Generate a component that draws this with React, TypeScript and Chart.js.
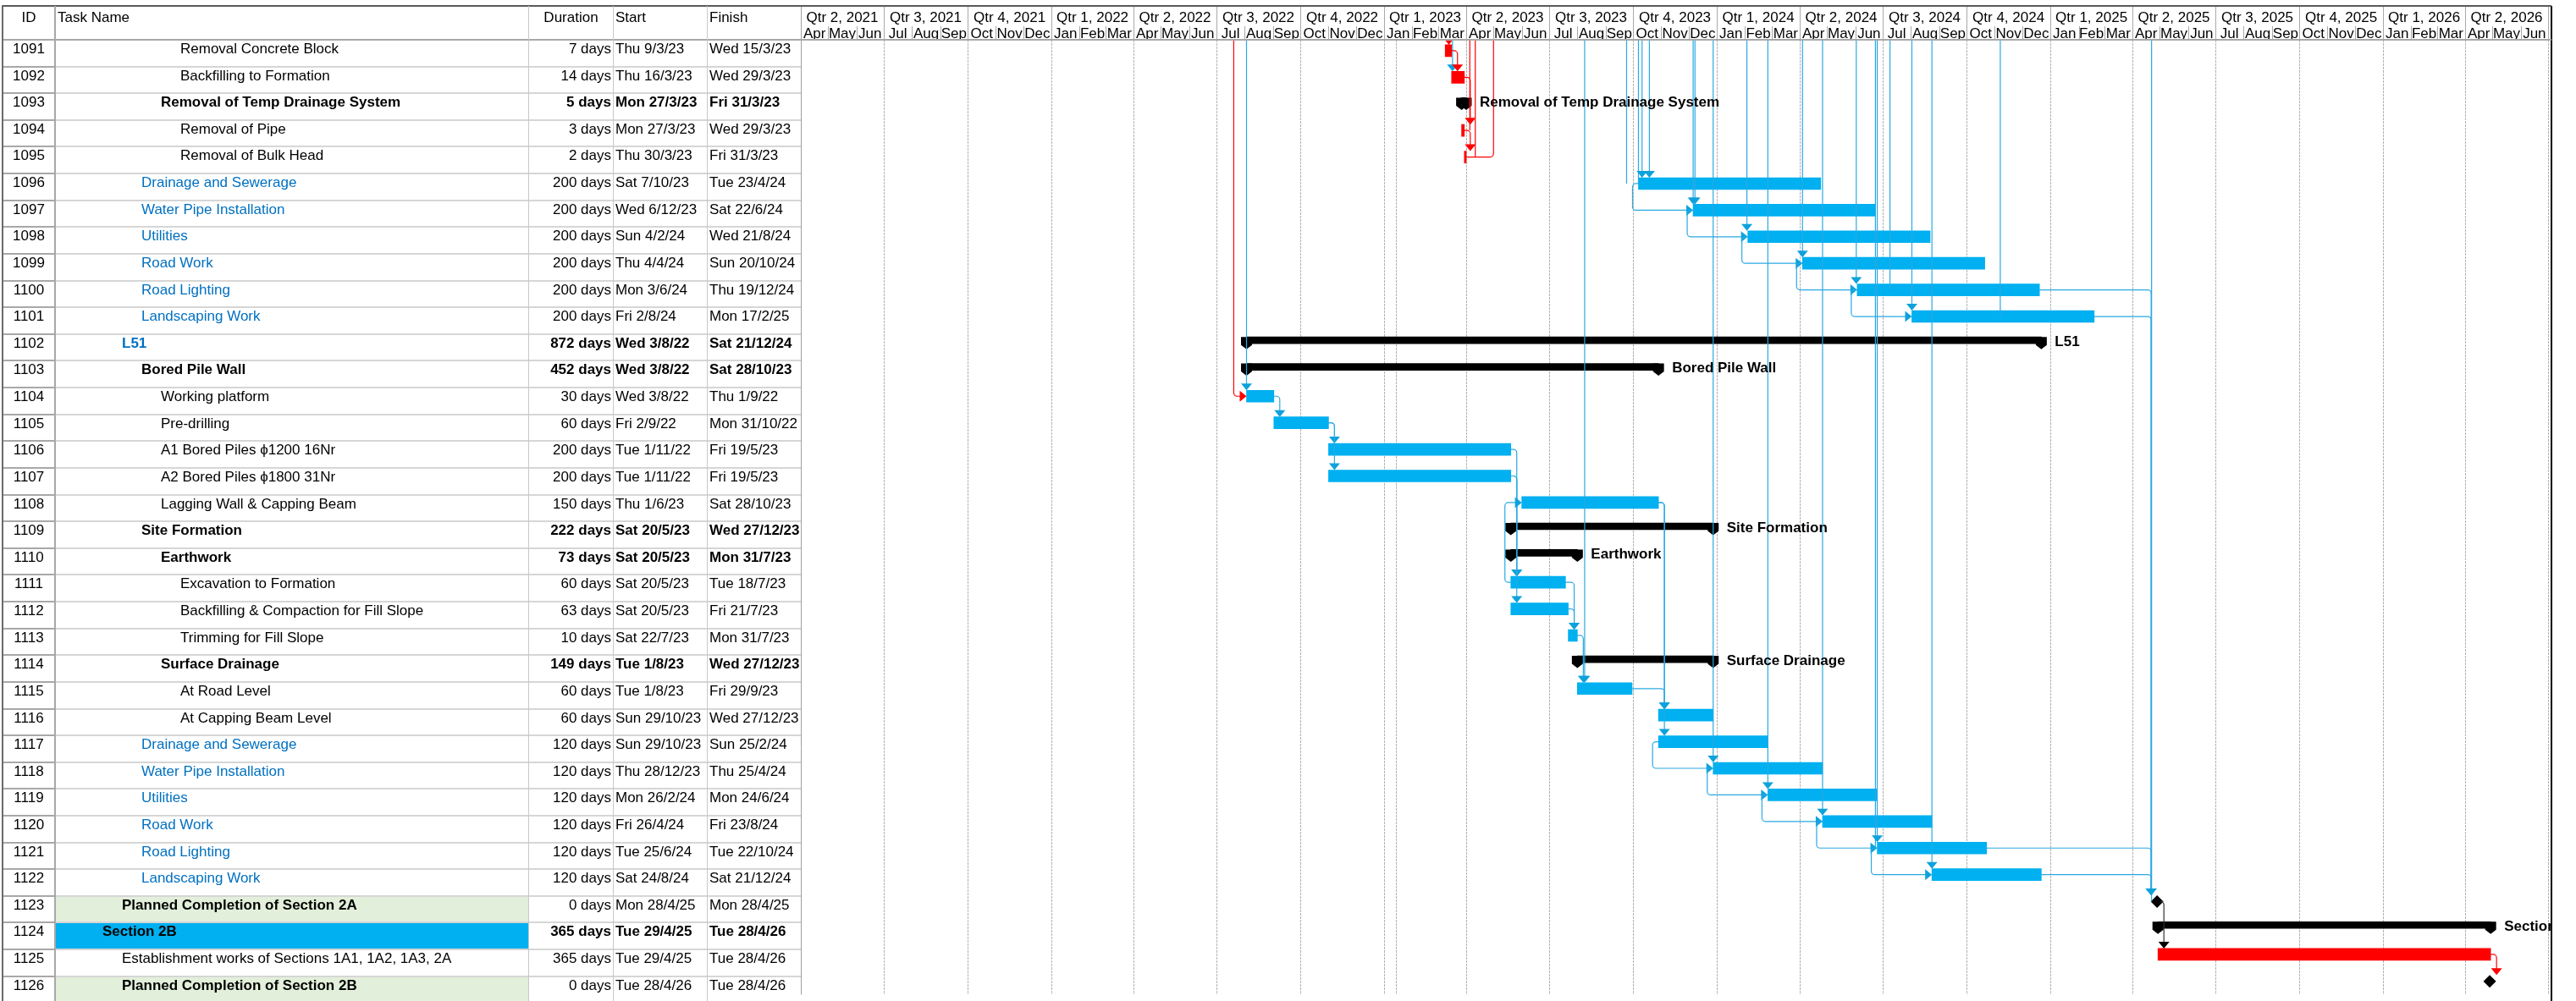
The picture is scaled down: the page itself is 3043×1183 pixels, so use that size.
import React, { useEffect, useRef } from "react";
import { Chart, registerables } from "chart.js";

Chart.register(...registerables);

// ---------------- data ----------------
const TASK_IDS = [1091, 1092, 1093, 1094, 1095, 1096, 1097, 1098, 1099, 1100, 1101, 1102, 1103, 1104, 1105, 1106, 1107, 1108, 1109, 1110, 1111, 1112, 1113, 1114, 1115, 1116, 1117, 1118, 1119, 1120, 1121, 1122, 1123, 1124, 1125, 1126];

const TASK_NAMES = [
  "Removal Concrete Block", "Backfilling to Formation", "Removal of Temp Drainage System", "Removal of Pipe", "Removal of Bulk Head",
  "Drainage and Sewerage", "Water Pipe Installation", "Utilities", "Road Work", "Road Lighting", "Landscaping Work",
  "L51", "Bored Pile Wall", "Working platform", "Pre-drilling", "A1 Bored Piles \u03d51200 16Nr", "A2 Bored Piles \u03d51800 31Nr", "Lagging Wall & Capping Beam",
  "Site Formation", "Earthwork", "Excavation to Formation", "Backfilling & Compaction for Fill Slope", "Trimming for Fill Slope",
  "Surface Drainage", "At Road Level", "At Capping Beam Level",
  "Drainage and Sewerage", "Water Pipe Installation", "Utilities", "Road Work", "Road Lighting", "Landscaping Work",
  "Planned Completion of Section 2A", "Section 2B", "Establishment works of Sections 1A1, 1A2, 1A3, 2A", "Planned Completion of Section 2B",
];

const DURATIONS = ["7 days", "14 days", "5 days", "3 days", "2 days", "200 days", "200 days", "200 days", "200 days", "200 days", "200 days", "872 days", "452 days", "30 days", "60 days", "200 days", "200 days", "150 days", "222 days", "73 days", "60 days", "63 days", "10 days", "149 days", "60 days", "60 days", "120 days", "120 days", "120 days", "120 days", "120 days", "120 days", "0 days", "365 days", "365 days", "0 days"];

const STARTS = ["Thu 9/3/23", "Thu 16/3/23", "Mon 27/3/23", "Mon 27/3/23", "Thu 30/3/23", "Sat 7/10/23", "Wed 6/12/23", "Sun 4/2/24", "Thu 4/4/24", "Mon 3/6/24", "Fri 2/8/24", "Wed 3/8/22", "Wed 3/8/22", "Wed 3/8/22", "Fri 2/9/22", "Tue 1/11/22", "Tue 1/11/22", "Thu 1/6/23", "Sat 20/5/23", "Sat 20/5/23", "Sat 20/5/23", "Sat 20/5/23", "Sat 22/7/23", "Tue 1/8/23", "Tue 1/8/23", "Sun 29/10/23", "Sun 29/10/23", "Thu 28/12/23", "Mon 26/2/24", "Fri 26/4/24", "Tue 25/6/24", "Sat 24/8/24", "Mon 28/4/25", "Tue 29/4/25", "Tue 29/4/25", "Tue 28/4/26"];

const FINISHES = ["Wed 15/3/23", "Wed 29/3/23", "Fri 31/3/23", "Wed 29/3/23", "Fri 31/3/23", "Tue 23/4/24", "Sat 22/6/24", "Wed 21/8/24", "Sun 20/10/24", "Thu 19/12/24", "Mon 17/2/25", "Sat 21/12/24", "Sat 28/10/23", "Thu 1/9/22", "Mon 31/10/22", "Fri 19/5/23", "Fri 19/5/23", "Sat 28/10/23", "Wed 27/12/23", "Mon 31/7/23", "Tue 18/7/23", "Fri 21/7/23", "Mon 31/7/23", "Wed 27/12/23", "Fri 29/9/23", "Wed 27/12/23", "Sun 25/2/24", "Thu 25/4/24", "Mon 24/6/24", "Fri 23/8/24", "Tue 22/10/24", "Sat 21/12/24", "Mon 28/4/25", "Tue 28/4/26", "Tue 28/4/26", "Tue 28/4/26"];

const OUTLINE_LEVELS = [5, 5, 4, 5, 5, 3, 3, 3, 3, 3, 3, 2, 3, 4, 4, 4, 4, 4, 3, 4, 5, 5, 5, 4, 5, 5, 3, 3, 3, 3, 3, 3, 2, 1, 2, 2];

const SUMMARY_IDS = [1093, 1102, 1103, 1109, 1110, 1114, 1124];
const MILESTONE_IDS = [1123, 1126];
const CRITICAL_IDS = [1091, 1092, 1094, 1095, 1125];
const BLUE_NAME_IDS = [1096, 1097, 1098, 1099, 1100, 1101, 1102, 1117, 1118, 1119, 1120, 1121, 1122];
const GREEN_NAME_IDS = [1123, 1126];
const CYAN_NAME_IDS = [1124];
const BOLD_NAME_IDS = [1093, 1102, 1103, 1109, 1110, 1114, 1124, 1123, 1126];

// links inside the view: [predecessor, successor]
const FS_LINKS = [
  [1091, 1092], [1092, 1094], [1094, 1095],
  [1104, 1105], [1105, 1106], [1105, 1107], [1106, 1111], [1107, 1111], [1107, 1112],
  [1111, 1113], [1112, 1113], [1113, 1115], [1108, 1116], [1108, 1117], [1115, 1116],
  [1100, 1123], [1101, 1123], [1121, 1123], [1122, 1123], [1123, 1125], [1125, 1126],
];
const SS_LINKS = [
  [1096, 1097], [1097, 1098], [1098, 1099], [1099, 1100], [1100, 1101],
  [1117, 1118], [1118, 1119], [1119, 1120], [1120, 1121], [1121, 1122], [1111, 1108],
];
// links coming from tasks above the view: [date of vertical line, target task, ending, critical]
const OFFVIEW_LINKS: [string, number, string, boolean][] = [
  ["20/7/22", 1104, "right", true],
  ["3/8/22", 1104, "down", false],
  ["13/3/23", 1091, "down", true],
  ["17/3/23", 1092, "down", false],
  ["5/4/23", 1094, "none", true],
  ["11/4/23", 1095, "none", true],
  ["1/5/23", 1095, "hook", true],
  ["9/8/23", 1115, "down", false],
  ["24/9/23", 1096, "none", false],
  ["7/10/23", 1096, "none", false],
  ["11/10/23", 1096, "down", false],
  ["19/10/23", 1096, "down", false],
  ["6/12/23", 1097, "down", false],
  ["8/12/23", 1097, "down", false],
  ["28/12/23", 1118, "down", false],
  ["3/2/24", 1098, "down", false],
  ["26/2/24", 1119, "down", false],
  ["4/4/24", 1099, "down", false],
  ["26/4/24", 1120, "down", false],
  ["2/6/24", 1100, "down", false],
  ["23/6/24", 1121, "none", false],
  ["25/6/24", 1121, "down", false],
  ["9/7/24", 1100, "none", false],
  ["2/8/24", 1101, "down", false],
  ["24/8/24", 1122, "down", false],
  ["7/11/24", 1101, "none", false],
  ["22/4/25", 1123, "none", false],
];

const QUARTER_LABELS = ["Qtr 2, 2021", "Qtr 3, 2021", "Qtr 4, 2021", "Qtr 1, 2022", "Qtr 2, 2022", "Qtr 3, 2022", "Qtr 4, 2022", "Qtr 1, 2023", "Qtr 2, 2023", "Qtr 3, 2023", "Qtr 4, 2023", "Qtr 1, 2024", "Qtr 2, 2024", "Qtr 3, 2024", "Qtr 4, 2024", "Qtr 1, 2025", "Qtr 2, 2025", "Qtr 3, 2025", "Qtr 4, 2025", "Qtr 1, 2026", "Qtr 2, 2026"];
const QUARTER_STARTS = ["1/4/21", "1/7/21", "1/10/21", "1/1/22", "1/4/22", "1/7/22", "1/10/22", "1/1/23", "1/4/23", "1/7/23", "1/10/23", "1/1/24", "1/4/24", "1/7/24", "1/10/24", "1/1/25", "1/4/25", "1/7/25", "1/10/25", "1/1/26", "1/4/26", "1/7/26"];
const MONTH_LABELS = ["Jan", "Feb", "Mar", "Apr", "May", "Jun", "Jul", "Aug", "Sep", "Oct", "Nov", "Dec"];
const STATUS_DATE = "14/1/23";

// ---------------- layout / style ----------------
const W = 3043;
const H = 1183;
const TOP = 47;
const ROW_H = 31.62;
const GANTT_LEFT = 946;
const GANTT_RIGHT = 3010;
const Y_MAX = (H - TOP) / ROW_H;
const FONT = "'Liberation Sans', Arial, Helvetica, sans-serif";
const TASK_Y = 13 / ROW_H;
const SUMMARY_Y = 9.7 / ROW_H;
const MS_Y = 13.5 / ROW_H;
const BLUE = "#00B0F0";
const RED = "#FF0000";
const LINK_BLUE = "#2AA9E3";
const ARROW_BLUE = "#0EA2DC";

function parseDay(s: string): number {
  const parts = s.trim().split(" ");
  const dmy = parts[parts.length - 1].split("/");
  return Date.UTC(2000 + Number(dmy[2]), Number(dmy[1]) - 1, Number(dmy[0])) / 86400000;
}

const START_DAYS = STARTS.map(parseDay);
const END_DAYS = FINISHES.map((f, i) => (MILESTONE_IDS.includes(TASK_IDS[i]) ? START_DAYS[i] : parseDay(f) + 1));
const TL_START = parseDay(QUARTER_STARTS[0]);
const TL_END = parseDay(QUARTER_STARTS[QUARTER_STARTS.length - 1]);

function kindOf(id: number) {
  if (SUMMARY_IDS.includes(id)) return "summary";
  if (MILESTONE_IDS.includes(id)) return "milestone";
  return "task";
}

function rounded(ctx: CanvasRenderingContext2D, pts: number[][], r: number) {
  ctx.beginPath();
  ctx.moveTo(pts[0][0], pts[0][1]);
  for (let k = 1; k < pts.length - 1; k++) {
    ctx.arcTo(pts[k][0], pts[k][1], pts[k + 1][0], pts[k + 1][1], r);
  }
  ctx.lineTo(pts[pts.length - 1][0], pts[pts.length - 1][1]);
  ctx.stroke();
}
function arrowDown(ctx: CanvasRenderingContext2D, x: number, tipY: number, color: string) {
  ctx.fillStyle = color;
  ctx.beginPath();
  ctx.moveTo(x - 6.5, tipY - 8);
  ctx.lineTo(x + 6.5, tipY - 8);
  ctx.lineTo(x, tipY);
  ctx.closePath();
  ctx.fill();
}
function arrowRight(ctx: CanvasRenderingContext2D, tipX: number, y: number, color: string) {
  ctx.fillStyle = color;
  ctx.beginPath();
  ctx.moveTo(tipX - 8, y - 6.5);
  ctx.lineTo(tipX - 8, y + 6.5);
  ctx.lineTo(tipX, y);
  ctx.closePath();
  ctx.fill();
}

const ganttPlugin = {
  id: "ganttDecor",
  beforeDatasetsDraw(chart: any) {
    const { ctx, chartArea: ca } = chart;
    const xs = chart.scales.x;
    ctx.save();
    // header: quarters
    ctx.fillStyle = "#000";
    ctx.font = `17px ${FONT}`;
    ctx.textAlign = "center";
    ctx.textBaseline = "middle";
    ctx.strokeStyle = "#A9A9A9";
    ctx.lineWidth = 1;
    for (let q = 0; q < QUARTER_LABELS.length; q++) {
      const x0 = xs.getPixelForValue(parseDay(QUARTER_STARTS[q]));
      const x1 = xs.getPixelForValue(parseDay(QUARTER_STARTS[q + 1]));
      ctx.fillText(QUARTER_LABELS[q], (x0 + x1) / 2, 21);
      const px = Math.round(x1) + 0.5;
      ctx.beginPath();
      ctx.moveTo(px, 8);
      ctx.lineTo(px, TOP);
      ctx.stroke();
    }
    // header: months
    const d0 = new Date(TL_START * 86400000);
    let y = d0.getUTCFullYear();
    let m = d0.getUTCMonth();
    while (Date.UTC(y, m, 1) / 86400000 < TL_END) {
      const a = Date.UTC(y, m, 1) / 86400000;
      const b = Date.UTC(y, m + 1, 1) / 86400000;
      const x0 = xs.getPixelForValue(a);
      const x1 = xs.getPixelForValue(b);
      ctx.fillText(MONTH_LABELS[m], (x0 + x1) / 2, 40);
      const px = Math.round(x1) + 0.5;
      ctx.beginPath();
      ctx.moveTo(px, 31);
      ctx.lineTo(px, TOP);
      ctx.stroke();
      m++;
      if (m > 11) {
        m = 0;
        y++;
      }
    }
    // body grid: quarter boundaries
    ctx.strokeStyle = "#B2B2B2";
    ctx.setLineDash([3, 1]);
    for (let q = 1; q < QUARTER_STARTS.length; q++) {
      const px = Math.round(xs.getPixelForValue(parseDay(QUARTER_STARTS[q]))) + 0.5;
      ctx.beginPath();
      ctx.moveTo(px, ca.top);
      ctx.lineTo(px, ca.bottom);
      ctx.stroke();
    }
    const sx = Math.round(xs.getPixelForValue(parseDay(STATUS_DATE))) + 0.5;
    ctx.beginPath();
    ctx.moveTo(sx, ca.top);
    ctx.lineTo(sx, ca.bottom);
    ctx.stroke();
    ctx.setLineDash([]);
    // gantt left edge
    ctx.strokeStyle = "#A0A0A0";
    ctx.beginPath();
    ctx.moveTo(ca.left + 0.5, 7);
    ctx.lineTo(ca.left + 0.5, ca.bottom);
    ctx.stroke();
    ctx.restore();
  },
  afterDatasetsDraw(chart: any) {
    const { ctx, chartArea: ca } = chart;
    const xs = chart.scales.x;
    const ys = chart.scales.y;
    const geo = (id: number) => {
      const i = TASK_IDS.indexOf(id);
      const kind = kindOf(id);
      const off = kind === "summary" ? SUMMARY_Y : kind === "milestone" ? MS_Y : TASK_Y;
      const cy = ys.getPixelForValue(i + off);
      const half = kind === "summary" ? 4 : kind === "milestone" ? 7.5 : 7;
      return {
        i,
        kind,
        s: xs.getPixelForValue(START_DAYS[i]),
        e: xs.getPixelForValue(END_DAYS[i]),
        cy,
        top: cy - half,
        rowTop: ys.getPixelForValue(i),
        critical: CRITICAL_IDS.includes(id),
      };
    };
    ctx.save();
    ctx.beginPath();
    ctx.rect(ca.left, ca.top, 3013 - ca.left, ca.bottom - ca.top);
    ctx.clip();

    // summary end caps
    ctx.fillStyle = "#000";
    for (const id of SUMMARY_IDS) {
      const g = geo(id);
      for (const x of [g.s, g.e]) {
        ctx.beginPath();
        ctx.moveTo(x - 6.5, g.top);
        ctx.lineTo(x + 6.5, g.top);
        ctx.lineTo(x + 6.5, g.top + 9.5);
        ctx.lineTo(x, g.top + 14.5);
        ctx.lineTo(x - 6.5, g.top + 9.5);
        ctx.closePath();
        ctx.fill();
      }
    }

    ctx.lineWidth = 1.2;
    // links from tasks outside the view
    for (const [date, target, ending, crit] of OFFVIEW_LINKS) {
      const g = geo(target);
      const x = xs.getPixelForValue(parseDay(date));
      const col = crit ? RED : LINK_BLUE;
      ctx.strokeStyle = col;
      if (ending === "down") {
        rounded(ctx, [[x, ca.top], [x, g.top - 7]], 3);
        arrowDown(ctx, x, g.top, crit ? RED : ARROW_BLUE);
      } else if (ending === "right") {
        rounded(ctx, [[x, ca.top], [x, g.cy], [g.s - 7, g.cy]], 4);
        arrowRight(ctx, g.s, g.cy, crit ? RED : ARROW_BLUE);
      } else if (ending === "hook") {
        rounded(ctx, [[x, ca.top], [x, g.cy], [g.e, g.cy]], 4);
      } else {
        rounded(ctx, [[x, ca.top], [x, g.cy]], 3);
      }
    }

    // finish-to-start links
    for (const [p, s] of FS_LINKS) {
      const a = geo(p);
      const b = geo(s);
      const col = a.critical ? RED : a.kind === "milestone" ? "#303030" : LINK_BLUE;
      const acol = a.critical ? RED : a.kind === "milestone" ? "#000" : ARROW_BLUE;
      const x0 = a.kind === "milestone" ? a.e + 7 : a.e;
      const xv = b.kind === "milestone" ? Math.max(a.e + 7, b.s - 7) : Math.max(a.e, b.s) + 7;
      ctx.strokeStyle = col;
      rounded(ctx, [[x0, a.cy], [xv, a.cy], [xv, b.top - 7]], 4);
      arrowDown(ctx, xv, b.top, acol);
    }
    // start-to-start links
    for (const [p, s] of SS_LINKS) {
      const a = geo(p);
      const b = geo(s);
      const xa = Math.min(a.s, b.s) - 7;
      ctx.strokeStyle = LINK_BLUE;
      rounded(ctx, [[a.s, a.cy], [xa, a.cy], [xa, b.cy], [b.s - 7, b.cy]], 4);
      arrowRight(ctx, b.s, b.cy, ARROW_BLUE);
    }

    // summary labels
    ctx.fillStyle = "#000";
    ctx.font = `bold 17px ${FONT}`;
    ctx.textAlign = "left";
    ctx.textBaseline = "middle";
    for (let k = 0; k < SUMMARY_IDS.length; k++) {
      const id = SUMMARY_IDS[k];
      const g = geo(id);
      ctx.fillText(TASK_NAMES[g.i], g.e + 16, g.rowTop + 11.5);
    }
    ctx.restore();

    // right border
    ctx.save();
    ctx.fillStyle = "#000";
    ctx.fillRect(3013, 7, 2, H - 7);
    ctx.restore();
  },
};

export default function App() {
  const canvasRef = useRef<HTMLCanvasElement | null>(null);

  useEffect(() => {
    const idx = TASK_IDS.map((_, i) => i);
    const barPoint = (i: number) => ({ x: [START_DAYS[i], END_DAYS[i]], y: i + TASK_Y });
    const normalTasks = idx.filter((i) => kindOf(TASK_IDS[i]) === "task" && !CRITICAL_IDS.includes(TASK_IDS[i]));
    const criticalTasks = idx.filter((i) => kindOf(TASK_IDS[i]) === "task" && CRITICAL_IDS.includes(TASK_IDS[i]));
    const summaries = idx.filter((i) => kindOf(TASK_IDS[i]) === "summary");
    const milestones = idx.filter((i) => kindOf(TASK_IDS[i]) === "milestone");

    const chart = new Chart(canvasRef.current as HTMLCanvasElement, {
      type: "bar",
      data: {
        datasets: [
          {
            type: "bar",
            label: "Task",
            indexAxis: "y",
            data: normalTasks.map(barPoint),
            backgroundColor: BLUE,
            borderWidth: 0,
            barThickness: 14,
            grouped: false,
          } as any,
          {
            type: "bar",
            label: "Critical task",
            indexAxis: "y",
            data: criticalTasks.map(barPoint),
            backgroundColor: RED,
            borderWidth: 0,
            barThickness: 14,
            grouped: false,
          } as any,
          {
            type: "bar",
            label: "Summary",
            indexAxis: "y",
            data: summaries.map((i) => ({ x: [START_DAYS[i], END_DAYS[i]], y: i + SUMMARY_Y })),
            backgroundColor: "#000",
            borderWidth: 0,
            barThickness: 8,
            grouped: false,
          } as any,
          {
            type: "scatter",
            label: "Milestone",
            data: milestones.map((i) => ({ x: START_DAYS[i], y: i + MS_Y })),
            pointStyle: "rectRot",
            pointRadius: 7.5,
            backgroundColor: "#000",
            borderWidth: 0,
          } as any,
        ],
      },
      options: {
        animation: false,
        responsive: false,
        maintainAspectRatio: false,
        devicePixelRatio: 1,
        events: [],
        layout: { padding: { left: GANTT_LEFT, right: W - GANTT_RIGHT, top: TOP, bottom: 0 } },
        plugins: { legend: { display: false }, tooltip: { enabled: false } },
        scales: {
          x: { type: "linear", min: TL_START, max: TL_END, display: false, offset: false, grid: { offset: false } },
          y: { type: "linear", min: 0, max: Y_MAX, reverse: true, display: false, offset: false, grid: { offset: false } },
        },
      } as any,
      plugins: [ganttPlugin as any],
    });
    return () => chart.destroy();
  }, []);

  const textBase: React.CSSProperties = {
    position: "absolute",
    height: 22,
    lineHeight: "22px",
    whiteSpace: "nowrap",
  };

  return (
    <div
      style={{
        position: "absolute",
        left: 0,
        top: 0,
        width: W,
        height: H,
        overflow: "hidden",
        background: "#fff",
        fontFamily: FONT,
        fontSize: 17,
        color: "#000",
      }}
    >
      <canvas ref={canvasRef} width={W} height={H} style={{ position: "absolute", left: 0, top: 0, width: W, height: H }} />
      {/* name-cell highlights */}
      {TASK_IDS.map((id, i) => {
        const bg = GREEN_NAME_IDS.includes(id) ? "#E2EFDA" : CYAN_NAME_IDS.includes(id) ? "#00B0F0" : null;
        if (!bg) return null;
        return <div key={"bg" + id} style={{ position: "absolute", left: 66, top: TOP + i * ROW_H + 1, width: 558, height: ROW_H - 1, background: bg }} />;
      })}
      {/* row lines */}
      {TASK_IDS.map((id, i) => (
        <React.Fragment key={"ln" + id}>
          <div style={{ position: "absolute", left: 2, top: TOP + (i + 1) * ROW_H - 1, width: 64, height: 2, background: "#A8A8A8" }} />
          <div style={{ position: "absolute", left: 66, top: TOP + (i + 1) * ROW_H - 1, width: 880, height: 2, background: "#D6D6D6" }} />
        </React.Fragment>
      ))}
      {/* frame lines */}
      <div style={{ position: "absolute", left: 2, top: 6, width: 3012, height: 2, background: "#5A5A5A" }} />
      <div style={{ position: "absolute", left: 2, top: TOP - 1, width: 3012, height: 2, background: "#A8A8A8" }} />
      <div style={{ position: "absolute", left: 2, top: 6, width: 2, height: H - 6, background: "#6A6A6A" }} />
      <div style={{ position: "absolute", left: 64, top: 7, width: 2, height: H - 7, background: "#A8A8A8" }} />
      <div style={{ position: "absolute", left: 624, top: 7, width: 1, height: H - 7, background: "#C8C8C8" }} />
      <div style={{ position: "absolute", left: 724, top: 7, width: 1, height: H - 7, background: "#C8C8C8" }} />
      <div style={{ position: "absolute", left: 835, top: 7, width: 1, height: H - 7, background: "#C8C8C8" }} />
      {/* header texts */}
      <div style={{ ...textBase, left: 4, width: 60, top: 10, textAlign: "center" }}>ID</div>
      <div style={{ ...textBase, left: 68, top: 10 }}>Task Name</div>
      <div style={{ ...textBase, left: 625, width: 99, top: 10, textAlign: "center" }}>Duration</div>
      <div style={{ ...textBase, left: 727, top: 10 }}>Start</div>
      <div style={{ ...textBase, left: 838, top: 10 }}>Finish</div>
      {/* rows */}
      {TASK_IDS.map((id, i) => {
        const top = TOP + i * ROW_H;
        const summary = SUMMARY_IDS.includes(id);
        return (
          <React.Fragment key={"row" + id}>
            <div style={{ ...textBase, left: 4, width: 60, top, textAlign: "center" }}>{id}</div>
            <div
              style={{
                ...textBase,
                left: 121 + (OUTLINE_LEVELS[i] - 1) * 23,
                top,
                color: BLUE_NAME_IDS.includes(id) ? "#0070C0" : "#000",
                fontWeight: BOLD_NAME_IDS.includes(id) ? "bold" : "normal",
              }}
            >
              {TASK_NAMES[i]}
            </div>
            <div style={{ ...textBase, left: 624, width: 98, top, textAlign: "right", fontWeight: summary ? "bold" : "normal" }}>{DURATIONS[i]}</div>
            <div style={{ ...textBase, left: 727, top, fontWeight: summary ? "bold" : "normal" }}>{STARTS[i]}</div>
            <div style={{ ...textBase, left: 838, top, fontWeight: summary ? "bold" : "normal" }}>{FINISHES[i]}</div>
          </React.Fragment>
        );
      })}
    </div>
  );
}
